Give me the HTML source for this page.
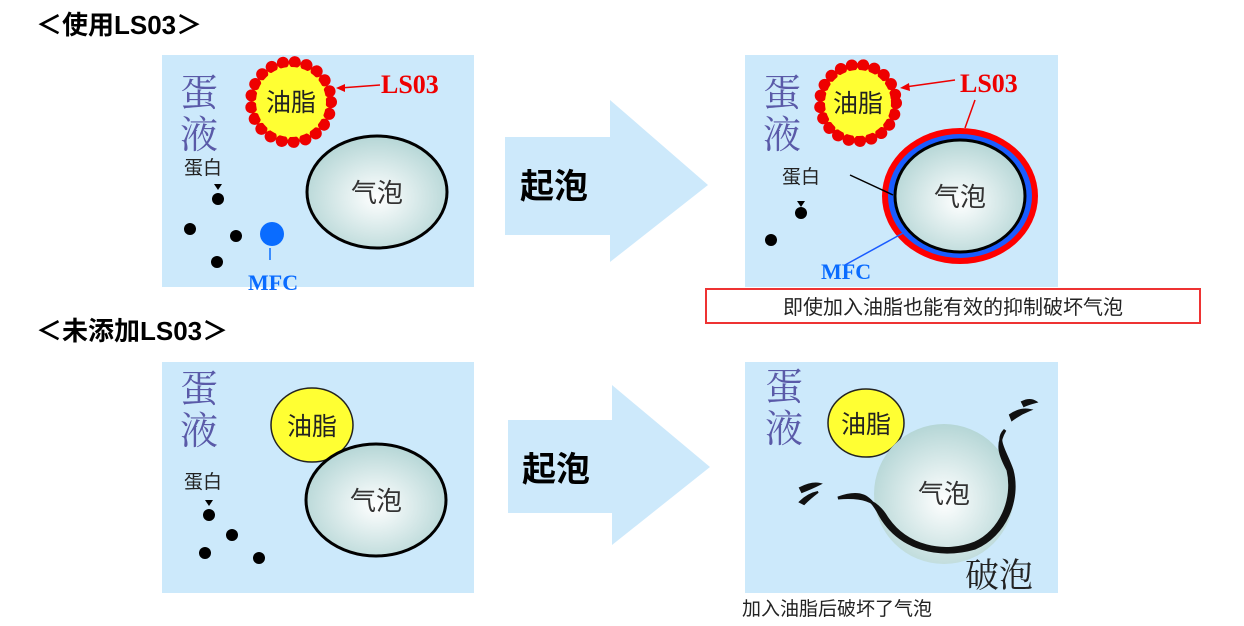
<!DOCTYPE html>
<html><head><meta charset="utf-8"><style>
body{margin:0;background:#fff;width:1244px;height:621px;overflow:hidden}
svg text{font-family:"Liberation Sans","Noto Sans CJK SC",sans-serif}
.s{font-family:"Liberation Serif","Noto Serif CJK SC",serif}
</style></head><body>
<svg width="1244" height="621" viewBox="0 0 1244 621">
<defs>
<radialGradient id="bg" cx="50%" cy="55%" r="55%"><stop offset="0" stop-color="#ffffff"/><stop offset="1" stop-color="#b5d6d6"/></radialGradient>
</defs>
<text x="36" y="34" font-size="26" font-weight="bold">＜使用LS03＞</text>
<text x="36" y="340" font-size="26" font-weight="bold">＜未添加LS03＞</text>

<!-- panels -->
<rect x="162" y="55" width="312" height="232" fill="#cce9fb"/>
<rect x="745" y="55" width="313" height="232" fill="#cce9fb"/>
<rect x="162" y="362" width="312" height="231" fill="#cce9fb"/>
<rect x="745" y="362" width="313" height="231" fill="#cce9fb"/>

<!-- arrows -->
<polygon points="505,137 610,137 610,100 708,185 610,262 610,235 505,235" fill="#cde9fb"/>
<polygon points="508,420 612,420 612,385 710,467 612,545 612,513 508,513" fill="#cde9fb"/>
<text x="520" y="198" font-size="34" font-weight="bold">起泡</text>
<text x="522" y="481" font-size="34" font-weight="bold">起泡</text>

<!-- panel 1 -->
<text x="180" y="106" font-size="38" fill="#5a5aa8" class="s">蛋</text>
<text x="180" y="148" font-size="38" fill="#5a5aa8" class="s">液</text>
<text x="184" y="174" font-size="19" fill="#222">蛋白</text>
<circle cx="291" cy="102" r="40" fill="#ffff33" stroke="#e00" stroke-width="12" stroke-dasharray="0.1 11.9" stroke-linecap="round"/>
<circle cx="291" cy="102" r="35" fill="#ffff33"/>
<text x="291" y="111" font-size="25" text-anchor="middle" fill="#222">油脂</text>
<line x1="380" y1="85" x2="340" y2="88" stroke="#e00" stroke-width="1.5"/>
<polygon points="336,88 345,84 345,92" fill="#e00"/>
<text x="381" y="93" font-size="26" font-weight="bold" fill="#e00" class="s">LS03</text>
<ellipse cx="377" cy="192" rx="70" ry="56" fill="url(#bg)" stroke="#000" stroke-width="3"/>
<text x="377" y="202" font-size="26" text-anchor="middle" fill="#333">气泡</text>
<polygon points="214,184 222,184 218,190" fill="#000"/>
<circle cx="218" cy="199" r="6" fill="#000"/><circle cx="190" cy="229" r="6" fill="#000"/>
<circle cx="236" cy="236" r="6" fill="#000"/><circle cx="217" cy="262" r="6" fill="#000"/>
<circle cx="272" cy="234" r="12" fill="#0a6cff"/>
<line x1="270" y1="248" x2="270" y2="260" stroke="#0a6cff" stroke-width="1.5"/>
<text x="248" y="290" font-size="22" font-weight="bold" fill="#0a6cff" class="s">MFC</text>

<!-- panel 2 -->
<text x="763" y="106" font-size="38" fill="#5a5aa8" class="s">蛋</text>
<text x="763" y="148" font-size="38" fill="#5a5aa8" class="s">液</text>
<text x="782" y="183" font-size="19" fill="#222">蛋白</text>
<circle cx="858" cy="103" r="38" fill="#ffff33" stroke="#e00" stroke-width="12" stroke-dasharray="0.1 11.4" stroke-linecap="round"/>
<circle cx="858" cy="103" r="33" fill="#ffff33"/>
<text x="858" y="112" font-size="25" text-anchor="middle" fill="#222">油脂</text>
<line x1="955" y1="80" x2="905" y2="87" stroke="#e00" stroke-width="1.5"/>
<polygon points="900,88 909,83 910,91" fill="#e00"/>
<text x="960" y="92" font-size="26" font-weight="bold" fill="#e00" class="s">LS03</text>
<line x1="975" y1="100" x2="965" y2="128" stroke="#e00" stroke-width="1.5"/>
<ellipse cx="960" cy="196" rx="78" ry="68" fill="#f00"/>
<ellipse cx="960" cy="196" rx="72" ry="62" fill="#1a5cff"/>
<ellipse cx="960" cy="196" rx="65" ry="56" fill="url(#bg)" stroke="#000" stroke-width="3"/>
<text x="960" y="206" font-size="26" text-anchor="middle" fill="#333">气泡</text>
<line x1="850" y1="175" x2="893" y2="195" stroke="#000" stroke-width="1.5"/>
<line x1="845" y1="265" x2="905" y2="232" stroke="#1a5cff" stroke-width="1.5"/>
<polygon points="797,201 805,201 801,207" fill="#000"/>
<circle cx="801" cy="213" r="6" fill="#000"/><circle cx="771" cy="240" r="6" fill="#000"/>
<text x="821" y="279" font-size="22" font-weight="bold" fill="#0a6cff" class="s">MFC</text>
<rect x="706" y="289" width="494" height="34" fill="#fff" stroke="#e33" stroke-width="2"/>
<text x="953" y="314" font-size="20" text-anchor="middle" fill="#222">即使加入油脂也能有效的抑制破坏气泡</text>

<!-- panel 3 -->
<text x="180" y="402" font-size="38" fill="#5a5aa8" class="s">蛋</text>
<text x="180" y="444" font-size="38" fill="#5a5aa8" class="s">液</text>
<text x="184" y="488" font-size="19" fill="#222">蛋白</text>
<ellipse cx="312" cy="425" rx="41" ry="37" fill="#ffff33" stroke="#222" stroke-width="1.5"/>
<text x="312" y="435" font-size="25" text-anchor="middle" fill="#222">油脂</text>
<ellipse cx="376" cy="500" rx="70" ry="56" fill="url(#bg)" stroke="#000" stroke-width="3"/>
<text x="376" y="510" font-size="26" text-anchor="middle" fill="#333">气泡</text>
<polygon points="205,500 213,500 209,506" fill="#000"/>
<circle cx="209" cy="515" r="6" fill="#000"/><circle cx="232" cy="535" r="6" fill="#000"/>
<circle cx="205" cy="553" r="6" fill="#000"/><circle cx="259" cy="558" r="6" fill="#000"/>

<!-- panel 4 -->
<text x="765" y="400" font-size="38" fill="#5a5aa8" class="s">蛋</text>
<text x="765" y="442" font-size="38" fill="#5a5aa8" class="s">液</text>
<ellipse cx="866" cy="423" rx="38" ry="34" fill="#ffff33" stroke="#222" stroke-width="1.5"/>
<text x="866" y="433" font-size="25" text-anchor="middle" fill="#222">油脂</text>
<circle cx="944" cy="494" r="70" fill="url(#bg)"/>
<text x="944" y="503" font-size="26" text-anchor="middle" fill="#333">气泡</text>
<path d="M838,498 C860,490 870,495 880,515 C900,550 940,558 975,548 C1005,535 1020,500 1012,470 C1005,450 995,440 1005,430 C996,445 1000,455 1008,470 C1015,500 1000,532 975,543 C945,555 905,548 885,515 C875,500 862,496 838,498 Z" fill="#111" stroke="#111" stroke-width="3"/>
<path d="M1010,415 Q1020,408 1030,410 Q1020,414 1012,420 Z" fill="#111" stroke="#111" stroke-width="2"/>
<path d="M1022,402 Q1030,398 1036,402 Q1028,404 1024,406 Z" fill="#111" stroke="#111" stroke-width="2"/>
<path d="M800,488 Q812,482 820,484 Q812,488 802,492 Z" fill="#111" stroke="#111" stroke-width="2"/>
<path d="M800,502 Q808,494 818,492 Q810,498 804,504 Z" fill="#111" stroke="#111" stroke-width="2"/>
<text x="965" y="587" font-size="34" fill="#222" class="s">破泡</text>
<text x="742" y="615" font-size="19" fill="#222">加入油脂后破坏了气泡</text>
</svg>
</body></html>
